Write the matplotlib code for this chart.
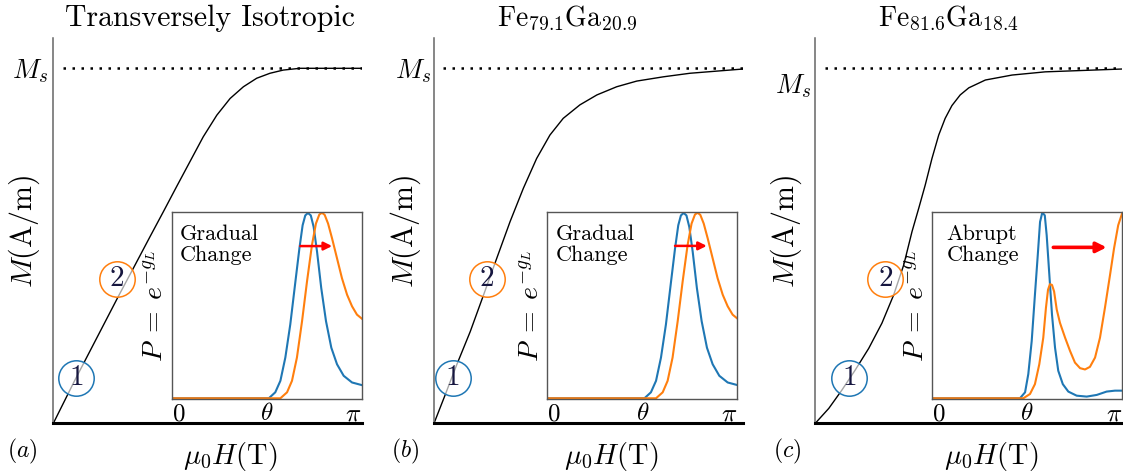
import numpy as np
import matplotlib.pyplot as plt

plt.rcParams['font.family'] = 'cmr10'
plt.rcParams['mathtext.fontset'] = 'cm'
plt.rcParams['axes.unicode_minus'] = False

titles = ['Transversely Isotropic',
          r'$\mathrm{Fe}_{79.1}\mathrm{Ga}_{20.9}$',
          r'$\mathrm{Fe}_{81.6}\mathrm{Ga}_{18.4}$']
title_sizes = [21.5, 20, 20]
tags = ['$(a)$', '$(b)$', '$(c)$']
notes = ['Gradual\nChange', 'Gradual\nChange', 'Abrupt\nChange']

# main magnetisation curves, H and M in units of the axis span / Ms
h_a = [0, 0.070, 0.129, 0.210, 0.259, 0.313, 0.356, 0.399, 0.442, 0.485,
       0.529, 0.572, 0.615, 0.658, 0.701, 0.744, 0.798, 1.0]
m_a = [0, 0.122, 0.221, 0.357, 0.437, 0.526, 0.596, 0.667, 0.737, 0.807,
       0.868, 0.915, 0.948, 0.972, 0.986, 0.995, 1.0, 1.0]

h_b = [0, 0.036, 0.073, 0.117, 0.160, 0.203, 0.246, 0.289, 0.332, 0.375,
       0.418, 0.472, 0.527, 0.591, 0.656, 0.742, 0.828, 1.0]
m_b = [0, 0.080, 0.164, 0.258, 0.361, 0.465, 0.568, 0.662, 0.746, 0.812,
       0.859, 0.897, 0.925, 0.948, 0.964, 0.976, 0.986, 0.998]

h_c = [0, 0.044, 0.087, 0.130, 0.174, 0.217, 0.255, 0.288, 0.315, 0.337,
       0.358, 0.380, 0.402, 0.423, 0.445, 0.472, 0.500, 0.554, 0.641, 0.749, 1.0]
m_c = [0, 0.042, 0.094, 0.150, 0.211, 0.282, 0.361, 0.446, 0.540, 0.606,
       0.671, 0.746, 0.812, 0.859, 0.895, 0.925, 0.945, 0.967, 0.981, 0.990, 0.998]

# circled points (H, M)
pt1 = [(0.073, 0.128), (0.060, 0.128), (0.111, 0.128)]
pt2 = [(0.205, 0.406), (0.170, 0.406), (0.228, 0.406)]

# inset distributions, angle as fraction of pi
ang_blue_ab = [0, 0.511, 0.545, 0.572, 0.598, 0.624, 0.651, 0.672, 0.689, 0.703,
               0.717, 0.732, 0.747, 0.765, 0.787, 0.812, 0.840, 0.870, 0.905,
               0.949, 1.0]
p_blue_ab = [0, 0, 0.032, 0.094, 0.219, 0.397, 0.628, 0.806, 0.931, 0.984,
             0.997, 0.984, 0.922, 0.788, 0.593, 0.415, 0.272, 0.183, 0.121,
             0.085, 0.071]
ang_orange_ab = [0, 0.572, 0.607, 0.633, 0.659, 0.686, 0.712, 0.738, 0.759, 0.777,
                 0.791, 0.805, 0.823, 0.844, 0.870, 0.896, 0.923, 0.949, 0.975,
                 1.0]
p_orange_ab = [0, 0, 0.032, 0.094, 0.219, 0.415, 0.628, 0.824, 0.940, 0.989,
               0.998, 0.987, 0.940, 0.860, 0.753, 0.646, 0.557, 0.495, 0.450,
               0.429]

ang_blue_c = [0, 0.462, 0.489, 0.506, 0.524, 0.541, 0.556, 0.568, 0.580, 0.593,
              0.603, 0.617, 0.631, 0.647, 0.664, 0.688, 0.717, 0.761, 0.814,
              0.867, 0.919, 0.963, 1.0]
p_blue_c = [0, 0, 0.032, 0.130, 0.308, 0.557, 0.771, 0.949, 1.0, 0.984,
            0.877, 0.664, 0.450, 0.272, 0.148, 0.076, 0.036, 0.014, 0.009,
            0.018, 0.036, 0.041, 0.041]
ang_orange_c = [0, 0.480, 0.515, 0.541, 0.564, 0.585, 0.599, 0.610, 0.620, 0.631,
                0.642, 0.656, 0.673, 0.700, 0.726, 0.752, 0.779, 0.805, 0.831,
                0.858, 0.884, 0.910, 0.937, 0.958, 0.980, 1.0]
p_orange_c = [0, 0, 0.023, 0.076, 0.183, 0.326, 0.486, 0.584, 0.614, 0.610,
              0.575, 0.477, 0.406, 0.326, 0.255, 0.192, 0.162, 0.155, 0.169,
              0.219, 0.326, 0.486, 0.664, 0.806, 0.931, 0.993]

# red arrows (start, end, height)
arrows = [(0.677, 0.844, 0.819), (0.672, 0.839, 0.82), (0.638, 0.919, 0.812)]

curves = [(h_a, m_a), (h_b, m_b), (h_c, m_c)]
insets = [(ang_blue_ab, p_blue_ab, ang_orange_ab, p_orange_ab),
          (ang_blue_ab, p_blue_ab, ang_orange_ab, p_orange_ab),
          (ang_blue_c, p_blue_c, ang_orange_c, p_orange_c)]

main_pos = [[0.0475, 0.107, 0.2752, 0.8122],
            [0.3865, 0.107, 0.2752, 0.8122],
            [0.7260, 0.107, 0.2734, 0.8122]]
inset_pos = [[0.1529, 0.1582, 0.1692, 0.3952],
             [0.4874, 0.1582, 0.1692, 0.3952],
             [0.8302, 0.1582, 0.1689, 0.3952]]
title_x = [0.508, 0.43, 0.434]
ms_pos = [(-0.075, 0.915), (-0.068, 0.915), (-0.073, 0.876)]
tag_x = [-0.101, -0.094, -0.092]
note_x = [0.044, 0.044, 0.076]

blue = '#1f77b4'
orange = '#ff7f0e'

fig = plt.figure(figsize=(11.23, 4.74), dpi=100)

for i in range(3):
    ax = fig.add_axes(main_pos[i])
    h, m = curves[i]
    ax.plot(h, m, color='black', lw=1.0, zorder=2)
    ax.plot([0.03, 1.0], [1.0, 1.0], color='black', lw=1.8,
            dashes=(1, 2.6), zorder=1)
    ax.set_xlim(0, 1)
    ax.set_ylim(0, 1.0845)
    ax.set_xticks([])
    ax.set_yticks([])
    ax.spines['top'].set_visible(False)
    ax.spines['right'].set_visible(False)
    ax.spines['left'].set_color('#666666')
    ax.spines['left'].set_linewidth(1.1)
    ax.spines['bottom'].set_linewidth(2.2)
    ax.spines['bottom'].set_zorder(3)

    ax.set_ylabel(r'$M(\mathrm{A/m})$', fontsize=21.5)
    ax.yaxis.set_label_coords(-0.036, 0.5)
    ax.set_xlabel(r'$\mu_0H(\mathrm{T})$', fontsize=20.5)
    ax.xaxis.set_label_coords(0.573, -0.043)
    ax.text(title_x[i], 1.032, titles[i], transform=ax.transAxes,
            ha='center', va='baseline', fontsize=title_sizes[i])
    ax.text(ms_pos[i][0], ms_pos[i][1], '$M_s$', transform=ax.transAxes,
            ha='center', va='center', fontsize=19.5)
    ax.text(tag_x[i], -0.072, tags[i], transform=ax.transAxes,
            ha='center', va='center', fontsize=17)

    for (px, py), col, lab in [(pt1[i], blue, '1'), (pt2[i], orange, '2')]:
        ax.plot(px, py, marker='o', ms=25.5, mfc=(1, 1, 1, 0.65), mec=col,
                mew=1.1, zorder=4)
        ax.text(px, py, '$' + lab + '$', ha='center', va='center',
                fontsize=21, color='#16163f', zorder=5)

    ins = fig.add_axes(inset_pos[i])
    xb, yb, xo, yo = insets[i]
    ins.plot(xb, yb, color=blue, lw=1.5)
    ins.plot(xo, yo, color=orange, lw=1.5)
    x0, x1, ya = arrows[i]
    lw_arrow = 2.6 if i == 2 else 1.8
    ins.annotate('', xy=(x1, ya), xytext=(x0, ya),
                 arrowprops=dict(arrowstyle='-|>', color='red', lw=lw_arrow,
                                 shrinkA=0, shrinkB=0,
                                 mutation_scale=12 if i < 2 else 15))
    ins.set_xlim(0, 1)
    ins.set_ylim(-0.004, 1.004)
    ins.set_yticks([])
    ins.set_xticks([0, 0.5, 1])
    labels = ins.set_xticklabels(['$0$', r'$\theta$', r'$\pi$'], fontsize=18)
    labels[0].set_ha('left')
    labels[2].set_ha('right')
    ins.tick_params(axis='x', length=0, pad=3)
    for s in ins.spines.values():
        s.set_color('#555555')
        s.set_linewidth(1.0)
    ins.set_ylabel(r'$P\;=\;e^{-g_L}$', fontsize=20)
    ins.yaxis.set_label_coords(-0.012, 0.5)
    ins.text(note_x[i], 0.93, notes[i], transform=ins.transAxes, ha='left',
             va='top', fontsize=16, linespacing=1.05)

fig.savefig('out.png', dpi=100)
